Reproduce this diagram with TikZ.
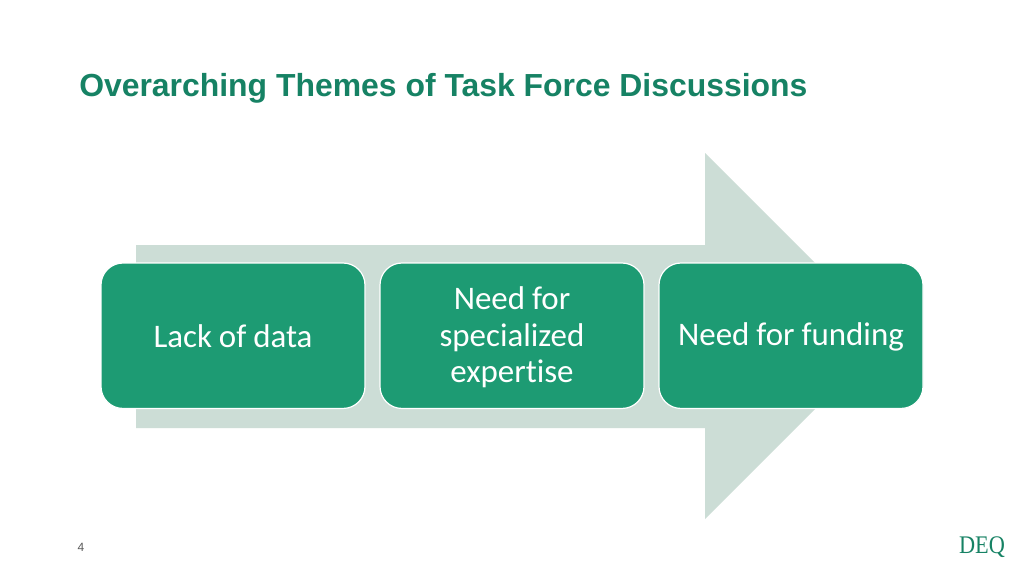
\documentclass[tikz,border=0pt]{standalone}
\usepackage{fontspec}
\setmainfont[Ligatures=NoCommon]{Carlito}
\newfontfamily\titlefont{Liberation Sans}
\newfontfamily\logofont[FakeStretch=0.88]{Liberation Serif}
\usetikzlibrary{positioning}
\definecolor{deqgreen}{RGB}{29,155,115}
\definecolor{titlegreen}{RGB}{22,130,100}
\definecolor{arrowgray}{RGB}{204,221,214}
\newcommand{\themestrut}{\spaceskip=5.2pt\relax\rule[-2.1pt]{0pt}{21.5pt}\ignorespaces}
\tikzset{
	themebox/.style={draw=white, line width=0.9pt, fill=deqgreen, rounded corners=16.5pt, outer sep=0pt, minimum width=198pt, minimum height=109.1pt, align=center, text width=185pt, font=\fontsize{24.7}{27.6}\selectfont, text=white},
}
\begin{document}
\begin{tikzpicture}[x=0.75pt, y=-0.75pt, node distance=11.25pt]
	\useasboundingbox (0,0) rectangle (1024,576);
	\fill[white] (0,0) rectangle (1024,576);
	\node[anchor=base west, text=titlegreen, font=\titlefont\bfseries\fontsize{23.93}{28}\selectfont, inner sep=0pt] (title) at (79,96.5) {Overarching Themes of Task Force Discussions};
	\fill[arrowgray] (136,245) -- (705,245) -- (705,153) -- (888,336) -- (705,519) -- (705,428) -- (136,428) -- cycle;
	\node[themebox, anchor=north west] (data) at (101,263) {\themestrut Lack of data\themestrut};
	\node[themebox, right=of data] (expertise) {\themestrut Need for\\specialized\\expertise\themestrut};
	\node[themebox, right=of expertise] (funding) {\themestrut Need for funding\themestrut};
	\node[text=black!65, font=\titlefont\fontsize{9}{11}\selectfont, inner sep=0pt] (page) at (81,547) {4};
	\node[anchor=base, text=titlegreen, font=\logofont\fontsize{19}{20}\selectfont, inner sep=0pt] (logo) at (982,553) {DEQ};
\end{tikzpicture}
\end{document}
